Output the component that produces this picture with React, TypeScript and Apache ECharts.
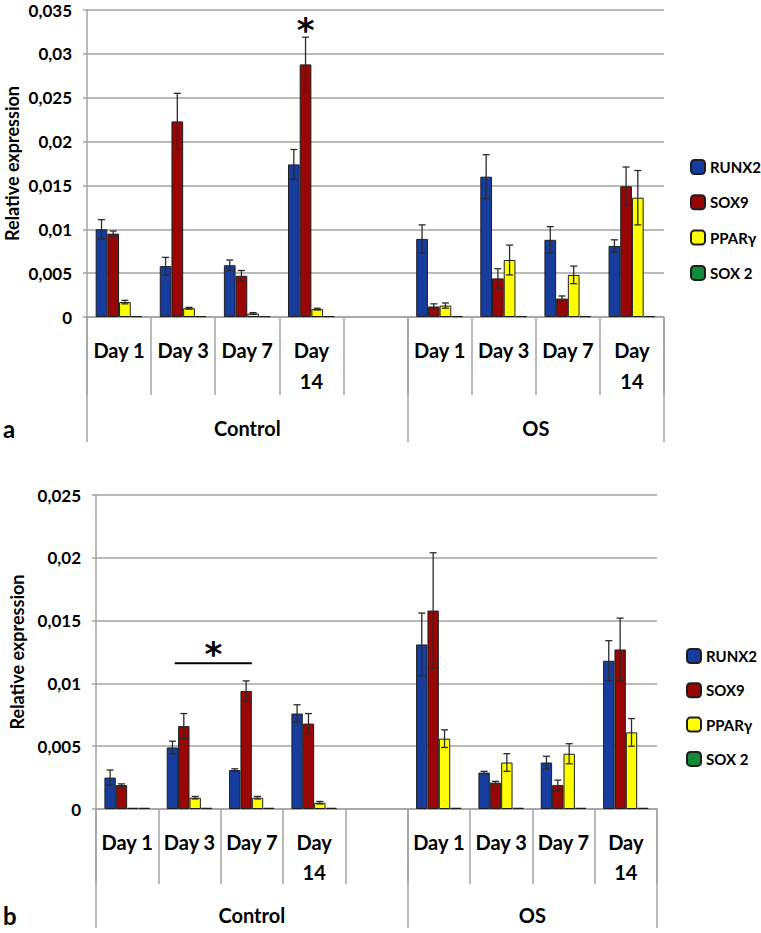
import React, { useEffect, useRef } from 'react';
import * as echarts from 'echarts';

// ---------- data ----------
const categories = ['Day 1', 'Day 3', 'Day 7', 'Day\n14', '', 'Day 1', 'Day 3', 'Day 7', 'Day\n14'];
const groupLabels = ['Control', 'OS'];
const groupBoundaries = [0, 5, 9];
const groupCenters = [2.5, 7];
const seriesNames = ['RUNX2', 'SOX9', 'PPARγ', 'SOX 2'];
const seriesColors = ['#163c9e', '#990606', '#ffff00', '#14893a'];

// panel a
const aRUNX2 = [0.0100, 0.0058, 0.0059, 0.0174, null, 0.0089, 0.0160, 0.0088, 0.0081];
const aRUNX2Err = [0.0011, 0.0010, 0.0006, 0.0017, null, 0.0016, 0.0025, 0.0015, 0.0007];
const aSOX9 = [0.0095, 0.0223, 0.0047, 0.0288, null, 0.0012, 0.0044, 0.0021, 0.0149];
const aSOX9Err = [0.0003, 0.0032, 0.0006, 0.0031, null, 0.0003, 0.0011, 0.0003, 0.0022];
const aPPARG = [0.0017, 0.0010, 0.0004, 0.0009, null, 0.0013, 0.0065, 0.0048, 0.0136];
const aPPARGErr = [0.0002, 0.0001, 0.0001, 0.0001, null, 0.0003, 0.0017, 0.0010, 0.0031];
const aSOX2 = [0.0001, 0.0001, 0.0001, 0.0001, null, 0.0001, 0.0001, 0.0001, 0.0001];
const aSOX2Err = [0, 0, 0, 0, null, 0, 0, 0, 0];

// panel b
const bRUNX2 = [0.0025, 0.0049, 0.0031, 0.0076, null, 0.0131, 0.0029, 0.0037, 0.0118];
const bRUNX2Err = [0.0006, 0.0005, 0.0001, 0.0007, null, 0.0025, 0.0001, 0.0005, 0.0016];
const bSOX9 = [0.0019, 0.0066, 0.0094, 0.0068, null, 0.0158, 0.0021, 0.0019, 0.0127];
const bSOX9Err = [0.0001, 0.0010, 0.0008, 0.0008, null, 0.0046, 0.0001, 0.0004, 0.0025];
const bPPARG = [0.0001, 0.0009, 0.0009, 0.0005, null, 0.0056, 0.0037, 0.0044, 0.0061];
const bPPARGErr = [0, 0.0001, 0.0001, 0.0001, null, 0.0007, 0.0007, 0.0008, 0.0011];
const bSOX2 = [0.0001, 0.0001, 0.0001, 0.0001, null, 0.0001, 0.0001, 0.0001, 0.0001];
const bSOX2Err = [0, 0, 0, 0, null, 0, 0, 0, 0];

const yMaxA = 0.035;
const yMaxB = 0.025;
const yInterval = 0.005;

// significance annotations
const sigA = { category: 3, seriesIndex: 1 }; // asterisk over Control Day 14 SOX9
const sigB = { fromCategory: 1, toCategory: 2, level: 0.0116 }; // line between Day 3 and Day 7

// ---------- styles ----------
const GRAY = '#a3a3a3';
const FONT = 'Lato';
const BAR_GAP = 0.27;

const panels = [
  {
    values: [aRUNX2, aSOX9, aPPARG, aSOX2],
    errors: [aRUNX2Err, aSOX9Err, aPPARGErr, aSOX2Err],
    max: yMaxA,
    grid: { left: 87, top: 10, right: 97, bottom: 616 },
    dayTick: 78, groupTick: 125, dayMargin: 17.5, groupMargin: 99, dayLH: 31,
    nameGap: 66, legend: { left: 685, top: 152, itemGap: 15.3 },
  },
  {
    values: [bRUNX2, bSOX9, bPPARG, bSOX2],
    errors: [bRUNX2Err, bSOX9Err, bPPARGErr, bSOX2Err],
    max: yMaxB,
    grid: { left: 96, top: 495, right: 104, bottom: 124 },
    dayTick: 75, groupTick: 119, dayMargin: 17.5, groupMargin: 94, dayLH: 30,
    nameGap: 70, legend: { left: 681, top: 641, itemGap: 14.3 },
  },
];

const fmt = (v: number) => (v === 0 ? '0' : String(+v.toFixed(3)).replace('.', ','));

function buildOption() {
  const grid: any[] = [];
  const xAxis: any[] = [];
  const yAxis: any[] = [];
  const series: any[] = [];
  const legend: any[] = [];

  panels.forEach((p, k) => {
    grid.push({ ...p.grid, containLabel: false, outerBoundsMode: 'none' });
    xAxis.push({
      type: 'category',
      gridIndex: k,
      data: categories,
      position: 'bottom',
      boundaryGap: true,
      axisLine: { show: true, lineStyle: { color: GRAY, width: 1.5 } },
      axisTick: { show: true, interval: 0, length: p.dayTick, lineStyle: { color: GRAY, width: 1.5 } },
      axisLabel: {
        interval: 0, margin: p.dayMargin, color: '#000', fontFamily: FONT, fontWeight: 'bold',
        fontSize: 20, lineHeight: p.dayLH,
      },
      splitLine: { show: false },
    });
    xAxis.push({
      type: 'value',
      gridIndex: k,
      min: 0,
      max: 9,
      position: 'bottom',
      axisLine: { show: false },
      splitLine: { show: false },
      axisTick: { show: true, customValues: groupBoundaries, length: p.groupTick, lineStyle: { color: GRAY, width: 1.5 } },
      axisLabel: {
        customValues: groupCenters, margin: p.groupMargin, color: '#000', fontFamily: FONT,
        fontWeight: 'bold', fontSize: 20, lineHeight: 24,
        formatter: (v: number) => groupLabels[groupCenters.indexOf(v)] ?? '',
      },
    });
    yAxis.push({
      type: 'value',
      gridIndex: k,
      min: 0,
      max: p.max,
      interval: yInterval,
      name: 'Relative expression',
      nameLocation: 'middle',
      nameGap: p.nameGap,
      nameMoveOverlap: false,
      nameTextStyle: { fontFamily: FONT, fontWeight: 'bold', fontSize: 18, color: '#000' },
      axisLine: { show: true, lineStyle: { color: GRAY, width: 1.5 } },
      axisTick: { show: true, length: 4, lineStyle: { color: GRAY, width: 1.5 } },
      splitLine: { show: true, lineStyle: { color: GRAY, width: 1.5 } },
      axisLabel: {
        formatter: fmt, margin: 15, color: '#000', fontFamily: FONT, fontWeight: 'bold',
        fontSize: 17, lineHeight: 14,
      },
    });

    p.values.forEach((vals, i) => {
      series.push({
        type: 'bar',
        name: seriesNames[i],
        xAxisIndex: k * 2,
        yAxisIndex: k,
        data: vals,
        barGap: '0%',
        barCategoryGap: `${BAR_GAP * 100}%`,
        itemStyle: { color: seriesColors[i], borderColor: '#1e1e1e', borderWidth: 1 },
        emphasis: { disabled: true },
        z: 2,
      });
    });
    p.values.forEach((vals, i) => {
      const errs = p.errors[i];
      const data = vals
        .map((v, idx) => (v == null || !errs[idx] ? null : [idx, v, errs[idx]]))
        .filter((d) => d != null);
      series.push({
        type: 'custom',
        xAxisIndex: k * 2,
        yAxisIndex: k,
        data,
        encode: { x: 0, y: 1 },
        z: 5,
        silent: true,
        renderItem: (params: any, api: any) => {
          const idx = api.value(0);
          const v = api.value(1);
          const e = api.value(2);
          const band = api.size([1, 0])[0];
          const groupW = band * (1 - BAR_GAP);
          const bw = groupW / 4;
          const c = api.coord([idx, v]);
          const x = c[0] - groupW / 2 + bw * (i + 0.5);
          const top = api.coord([idx, v + e])[1];
          const bot = api.coord([idx, Math.max(v - e, 0)])[1];
          const st = { stroke: '#2a2a2a', lineWidth: 1.3 };
          return {
            type: 'group',
            children: [
              { type: 'line', shape: { x1: x, y1: top, x2: x, y2: bot }, style: st },
              { type: 'line', shape: { x1: x - 3.5, y1: top, x2: x + 3.5, y2: top }, style: st },
              { type: 'line', shape: { x1: x - 3.5, y1: bot, x2: x + 3.5, y2: bot }, style: st },
            ],
          };
        },
      });
    });

    legend.push({
      data: seriesNames,
      orient: 'vertical',
      left: p.legend.left,
      top: p.legend.top,
      itemGap: p.legend.itemGap,
      itemWidth: 14,
      itemHeight: 14,
      icon: 'roundRect',
      selectedMode: false,
      textStyle: { fontFamily: FONT, fontWeight: 'bold', fontSize: 15, lineHeight: 20, color: '#000' },
    });
  });

  return { animation: false, grid, xAxis, yAxis, series, legend };
}

export default function App() {
  const ref = useRef<HTMLDivElement>(null);
  useEffect(() => {
    document.body.style.margin = '0';
    const chart = echarts.init(ref.current!, undefined, { renderer: 'svg' });
    chart.setOption(buildOption() as any);

    // annotations positioned through the chart's own scales
    const toPx = (k: number, pt: [number, number]) =>
      chart.convertToPixel({ xAxisIndex: k * 2, yAxisIndex: k } as any, pt) as number[];
    const bandA = toPx(0, [1, 0])[0] - toPx(0, [0, 0])[0];
    const gwA = bandA * (1 - BAR_GAP);
    const bwA = gwA / 4;
    const vA = aSOX9[sigA.category]! + aSOX9Err[sigA.category]!;
    const pA = toPx(0, [sigA.category, vA]);
    const xA = pA[0] - gwA / 2 + bwA * (sigA.seriesIndex + 0.5);

    const bandB = toPx(1, [1, 0])[0] - toPx(1, [0, 0])[0];
    const bwB = (bandB * (1 - BAR_GAP)) / 4;
    const p1 = toPx(1, [sigB.fromCategory, sigB.level]);
    const p2 = toPx(1, [sigB.toCategory, sigB.level]);
    const x1 = p1[0] - bwB * 1.3;
    const x2 = p2[0];

    const yA0 = toPx(0, [0, 0])[1];
    const yB0 = toPx(1, [0, 0])[1];

    chart.setOption({
      graphic: [
        { type: 'text', x: 3, y: yA0 + 111, style: { text: 'a', font: `bold 24px ${FONT}`, fill: '#000', textVerticalAlign: 'middle' } },
        { type: 'text', x: 3, y: yB0 + 106, style: { text: 'b', font: `bold 24px ${FONT}`, fill: '#000', textVerticalAlign: 'middle' } },
        { type: 'text', x: xA, y: pA[1] - 7, style: { text: '*', font: 'bold 34px "DejaVu Sans"', fill: '#000', textAlign: 'center', textVerticalAlign: 'middle' } },
        { type: 'line', shape: { x1, y1: p1[1], x2, y2: p1[1] }, style: { stroke: '#000', lineWidth: 2 } },
        { type: 'text', x: (x1 + x2) / 2, y: p1[1] - 9, style: { text: '*', font: 'bold 34px "DejaVu Sans"', fill: '#000', textAlign: 'center', textVerticalAlign: 'middle' } },
      ],
    });
    return () => chart.dispose();
  }, []);
  return <div ref={ref} style={{ width: 761, height: 933 }} />;
}
